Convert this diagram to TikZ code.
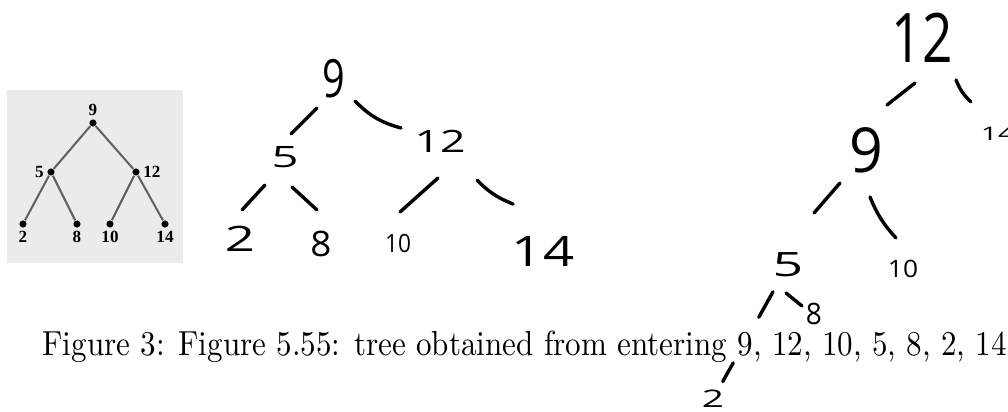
\documentclass[tikz,border=0pt]{standalone}
\usepackage{fontspec}
\usepackage{graphicx}
\newfontfamily\handfont{Open Sans}
\newfontfamily\scanfont{Liberation Serif}
\usetikzlibrary{calc}

\begin{document}
\begin{tikzpicture}[x=0.322pt,y=-0.322pt,
    hand/.style={line width=1.1pt,line cap=round},
    hw/.style 2 args={font=\handfont\addfontfeatures{FakeStretch=#2}\fontsize{#1}{#1}\selectfont,inner sep=0pt},
    dot/.style={circle,fill=black,inner sep=0pt,minimum size=2.3pt,label distance=1.2pt},
    twig/.style={draw=black!62,line width=0.65pt},
    every label/.style={font=\scanfont\bfseries\fontsize{5.5}{6}\selectfont,inner sep=0.8pt}]
  \useasboundingbox (0,0) rectangle (1008,412);

  \fill[black!8] (7,90) rectangle (183,263);
  \node[dot,label=above:9] (p9) at (93,123) {};
  \node[dot,label=left:5] (p5) at (51,172) {};
  \node[dot,label=right:12] (p12) at (136,172) {};
  \node[dot,label=below:2] (p2) at (23,224) {};
  \node[dot,label=below:8] (p8) at (77,224) {};
  \node[dot,label=below:10] (p10) at (110,224) {};
  \node[dot,label=below:14] (p14) at (165,224) {};
  \path[twig]
    (p9) edge (p5)
    (p9) edge (p12)
    (p5) edge (p2)
    (p5) edge (p8)
    (p12) edge (p10)
    (p12) edge (p14);

  \node[hw={17}{0.75}] (m9) at (334,79) {9};
  \node[hw={9.5}{1.6}] (m5) at (285,157) {5};
  \node[hw={9.9}{1.45}] (m12) at (440,141) {12};
  \node[hw={11.3}{1.5}] (m2) at (240,239) {2};
  \node[hw={11.3}{1.05}] (m8) at (321,244) {8};
  \node[hw={8.1}{0.9}] (m10) at (398,244) {10};
  \node[hw={13.5}{1.3}] (m14) at (543,251) {14};
  \path[hand]
    ($(m9)+(-17,29)$) edge ($(m5)+(6,-23)$)
    ($(m9)+(21,22)$) edge[bend right=15] ($(m12)+(-39,-13)$)
    ($(m5)+(-20,28)$) edge ($(m2)+(2,-29)$)
    ($(m5)+(7,30)$) edge ($(m8)+(-4,-34)$)
    ($(m12)+(-2,37)$) edge ($(m10)+(2,-32)$)
    ($(m12)+(37,39)$) edge[bend right=12] ($(m14)+(-30,-47)$);

  \node[hw={22}{0.78}] (r12) at (922,38) {12};
  \node[hw={20}{0.95}] (r9) at (866,150) {9};
  \node[hw={6}{1.6}] (r14) at (998,134) {14};
  \node[hw={10.8}{1.6}] (r5) at (788,265) {5};
  \node[hw={7.7}{1.1}] (r10) at (903,269) {10};
  \node[hw={9.5}{0.95}] (r8) at (814,314) {8};
  \node[hw={7.8}{1.6}] (r2) at (713,399) {2};
  \path[hand]
    ($(r12)+(-7,45)$) edge ($(r9)+(21,-45)$)
    ($(r12)+(34,42)$) edge[bend right=12] ($(r14)+(-27,-32)$)
    ($(r9)+(-26,33)$) edge ($(r5)+(26,-52)$)
    ($(r9)+(4,47)$) edge[bend right=10] ($(r10)+(-7,-31)$)
    ($(r5)+(-2,28)$) edge ($(r8)+(-12,-8)$);
  \draw[hand] ($(r5)!.2!(r2)$) -- ($(r5)!.39!(r2)$)
    ($(r5)!.73!(r2)$) -- ($(r5)!.87!(r2)$);

  \node[anchor=base west,inner sep=0pt] (cap) at (42,355)
    {\scalebox{1}[1.12]{Figure 3: Figure 5.55: tree obtained from entering 9, 12, 10, 5, 8, 2, 14}};
\end{tikzpicture}
\end{document}
